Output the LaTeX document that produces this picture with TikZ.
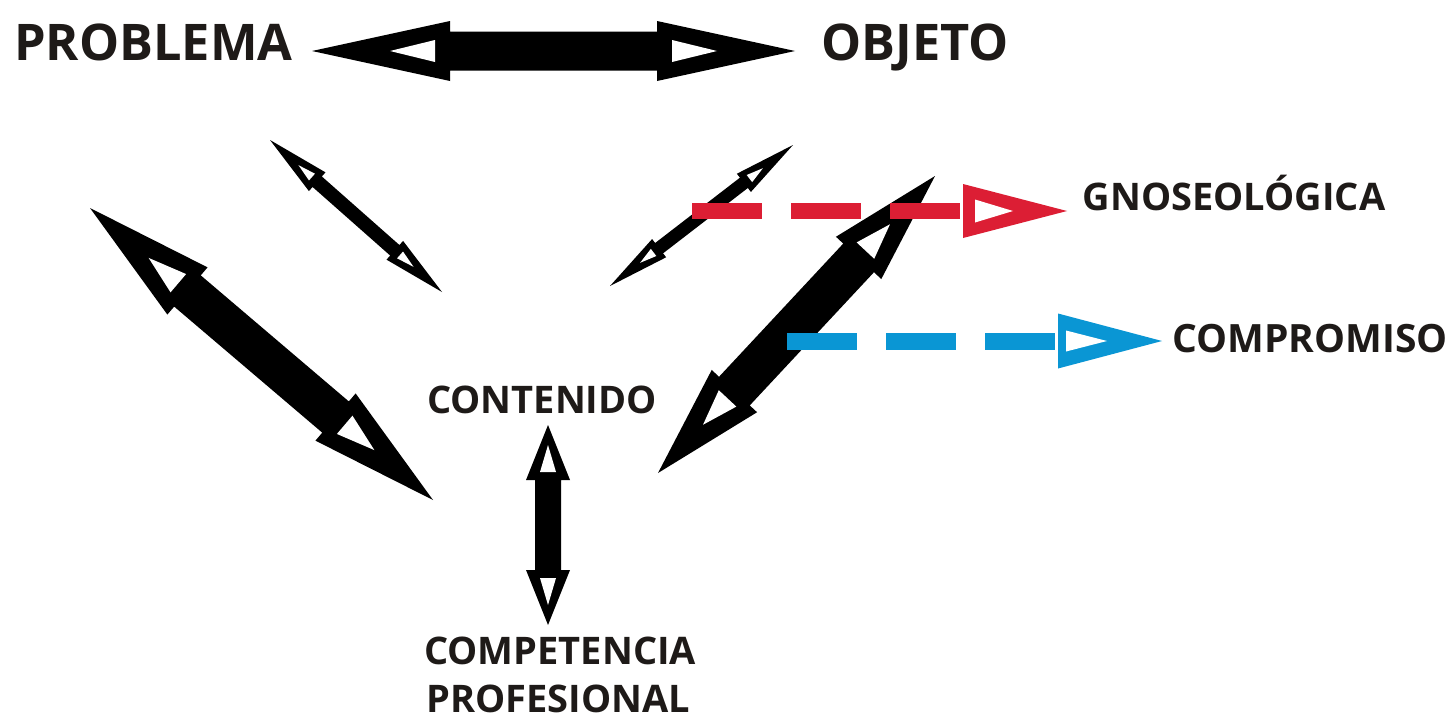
\documentclass[tikz,border=0pt]{standalone}
\usepackage{fontspec}
\newfontfamily\lab{Open Sans}
\usetikzlibrary{calc}
\definecolor{txt}{HTML}{1E1A18}
\definecolor{redc}{HTML}{DC1E34}
\definecolor{bluec}{HTML}{0A96D4}
% double arrow: #1 A, #2 B, #3 head length, #4 head half width, #5 shaft half width, #6 inner tip dist, #7 inner back dist, #8 inner half width
\newcommand\dblarr[8]{%
  \fill[arrowfill] (#1) -- ($(#1)!#3!(#2)!#4!90:(#2)$) -- ($(#1)!#3!(#2)!#5!90:(#2)$)
    -- ($(#2)!#3!(#1)!#5!-90:(#1)$) -- ($(#2)!#3!(#1)!#4!-90:(#1)$) -- (#2)
    -- ($(#2)!#3!(#1)!#4!90:(#1)$) -- ($(#2)!#3!(#1)!#5!90:(#1)$)
    -- ($(#1)!#3!(#2)!#5!-90:(#2)$) -- ($(#1)!#3!(#2)!#4!-90:(#2)$) -- cycle;
  \fill[white] ($(#1)!#6!(#2)$) -- ($(#1)!#7!(#2)!#8!90:(#2)$) -- ($(#1)!#7!(#2)!#8!-90:(#2)$) -- cycle;
  \fill[white] ($(#2)!#6!(#1)$) -- ($(#2)!#7!(#1)!#8!90:(#1)$) -- ($(#2)!#7!(#1)!#8!-90:(#1)$) -- cycle;
}
% open head: #1 behind point, #2 tip, #3 L, #4 H, #5 inner tip dist, #6 inner back dist, #7 inner half width, #8 colour
\newcommand\openhead[8]{%
  \fill[#8] (#2) -- ($(#2)!#3!(#1)!#4!90:(#1)$) -- ($(#2)!#3!(#1)!#4!-90:(#1)$) -- cycle;
  \fill[white] ($(#2)!#5!(#1)$) -- ($(#2)!#6!(#1)!#7!90:(#1)$) -- ($(#2)!#6!(#1)!#7!-90:(#1)$) -- cycle;
}
\begin{document}
\begin{tikzpicture}[x=1pt,y=-1pt,
  arrowfill/.style={fill=black},
  lbl/.style={inner sep=0pt, text=txt, anchor=base},
  big/.style={lbl, font=\lab\bfseries\fontsize{50.5}{50.5}\selectfont},
  mid/.style={lbl, font=\lab\bfseries\fontsize{38}{38}\selectfont},
  dashln/.style={line width=17pt, dash pattern=on 70pt off 29pt, line cap=butt}]
\useasboundingbox (0,0) rectangle (1450,720);
\fill[white] (0,0) rectangle (1450,720);

% labels
\node[big] (prob) at (153.5,60) {PROBLEMA};
\node[big] (obj) at (915,60) {OBJETO};
\node[mid] (cont) at (542,413) {CONTENIDO};
\node[mid, anchor=base west] (comp1) at (424,664) {COMPETENCIA};
\node[mid, anchor=base west] (comp2) at (426,712) {PROFESIONAL};
\node[mid] (gno) at (1234,210) {GNOSEOLÓGICA};
\node[mid, font=\lab\bfseries\fontsize{39}{39}\selectfont] (compro) at (1310,352) {COMPROMISO};

% arrow end points
\coordinate (a1) at (312,51);  \coordinate (b1) at (795,51);
\coordinate (a2) at (90,208);  \coordinate (b2) at (433,500);
\coordinate (a3) at (270,140); \coordinate (b3) at (442,292);
\coordinate (a4) at (793,145); \coordinate (b4) at (610,286);
\coordinate (a5) at (935,176); \coordinate (b5) at (658,473);
\coordinate (a6) at (548,425); \coordinate (b6) at (548,625);

\dblarr{a1}{b1}{138pt}{30pt}{19.5pt}{78pt}{123pt}{11pt}
\dblarr{a2}{b2}{128pt}{31pt}{20.5pt}{77pt}{116pt}{12pt}
\dblarr{a3}{b3}{63pt}{12.5pt}{7pt}{38pt}{56pt}{4.5pt}
\dblarr{a4}{b4}{62pt}{11.5pt}{6.5pt}{38pt}{55pt}{4.5pt}
\dblarr{a5}{b5}{112pt}{31pt}{21pt}{66pt}{102pt}{12pt}
\dblarr{a6}{b6}{55pt}{22pt}{13pt}{20pt}{47pt}{8pt}

% dashed connectors
\coordinate (rs) at (692,211); \coordinate (rt) at (1067,211);
\coordinate (rb) at (963,211);
\draw[dashln, redc, line width=16pt] (rs) -- (rb);
\openhead{rs}{rt}{104pt}{27pt}{54pt}{92pt}{11.5pt}{redc}

\coordinate (bs) at (787,341); \coordinate (bt) at (1162,341);
\coordinate (bb) at (1058,341);
\draw[dashln, bluec] (bs) -- (bb);
\openhead{bs}{bt}{104pt}{27.5pt}{55pt}{96pt}{10.5pt}{bluec}
\end{tikzpicture}
\end{document}
